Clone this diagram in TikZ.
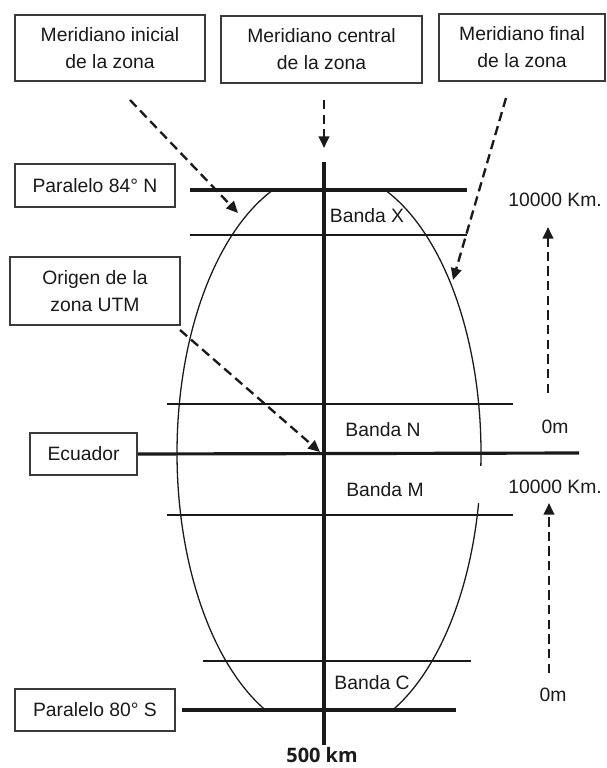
\documentclass[tikz,border=0pt]{standalone}
\usepackage{fontspec}
\setmainfont{Liberation Sans}
\newfontfamily\osans{Open Sans}
\usetikzlibrary{arrows.meta}
\definecolor{ink}{HTML}{1A1A1A}
\definecolor{boxline}{HTML}{3A3A3A}
\tikzset{
  lbl/.style={text=ink,font=\fontsize{16.5}{23}\selectfont,inner sep=0pt,align=center},
  tbox/.style={lbl,draw=boxline,line width=1.5pt,fill=white},
  thickln/.style={draw=ink,line width=2.7pt},
  thinln/.style={draw=ink,line width=1.2pt},
  arcln/.style={draw=ink,line width=1.1pt},
  dasharrow/.style={draw=ink,line width=2pt,dash pattern=on 8pt off 4.5pt,
    -{Triangle[length=10pt,width=9pt]}},
}
\begin{document}
\begin{tikzpicture}[x=0.03cm,y=-0.03cm]
\useasboundingbox (0,0) rectangle (606,768);
% top boxes
\node[tbox,minimum width=5.7cm,minimum height=1.98cm] (mi) at (110,48) {Meridiano inicial\\de la zona};
\node[tbox,minimum width=6.03cm,minimum height=2.0cm] (mc) at (321.5,49.5) {Meridiano central\\de la zona};
\node[tbox,minimum width=4.98cm,minimum height=2.0cm] (mf) at (522,47.5) {Meridiano final\\de la zona};
% left boxes
\node[tbox,minimum width=4.8cm,minimum height=1.29cm] (p84) at (95,185.5) {Paralelo 84° N};
\node[tbox,minimum width=5.1cm,minimum height=2.04cm] (og) at (95,291) {Origen de la\\zona UTM};
\node[tbox,minimum width=3.21cm,minimum height=1.26cm] (ec) at (83.5,454) {Ecuador};
\node[tbox,minimum width=4.8cm,minimum height=1.26cm] (p80) at (95,710) {Paralelo 80° S};
% ellipse arcs
\draw[arcln] plot[domain=111.7:245.2,samples=90] ({329+152*cos(\x)},{453-283*sin(\x)});
\draw[arcln] plot[domain=68.3:-2.6,samples=60] ({329+152*cos(\x)},{453-283*sin(\x)});
\draw[arcln] plot[domain=-10.2:-65.2,samples=60] ({329+152*cos(\x)},{453-283*sin(\x)});
% horizontal lines
\coordinate (t1) at (190,190); \coordinate (t2) at (467,190);
\coordinate (s1) at (190,235); \coordinate (s2) at (467,235);
\coordinate (n1) at (167,404); \coordinate (n2) at (513,404);
\coordinate (e2) at (579,453);
\coordinate (m1) at (167,515); \coordinate (m2) at (513,515);
\coordinate (c1) at (203,661); \coordinate (c2) at (471,661);
\coordinate (b1) at (182,710); \coordinate (b2) at (456,710);
\coordinate (v1) at (324,162); \coordinate (v2) at (324,745);
\draw[thickln] (t1) -- (t2);
\draw[thinln] (s1) -- (s2);
\draw[thinln] (n1) -- (n2);
\draw[thickln] (ec.east) -- (e2);
\draw[thinln] (m1) -- (m2);
\draw[thinln] (c1) -- (c2);
\draw[thickln] (b1) -- (b2);
\draw[thickln] (v1) -- (v2);
% band labels
\node[lbl] (bx) at (367,216) {Banda X};
\node[lbl] (bn) at (383,430) {Banda N};
\node[lbl] (bm) at (385,490) {Banda M};
\node[lbl] (bc) at (372,683) {Banda C};
% right scale
\node[lbl] (k1) at (555,200) {10000 Km.};
\node[lbl] (z1) at (555,427) {0m};
\node[lbl] (k2) at (555,487) {10000 Km.};
\node[lbl] (z2) at (553,695) {0m};
\node[text=ink,font=\osans\bfseries\fontsize{17}{20}\selectfont,inner sep=0pt,anchor=north] (km) at (322,747) {500 km};
% arrows
\coordinate (a1s) at (130,100); \coordinate (a1e) at (238,213);
\coordinate (a2s) at (324,100); \coordinate (a2e) at (324,148);
\coordinate (a3s) at (506,98);  \coordinate (a3e) at (453,280);
\coordinate (a4s) at (180,330); \coordinate (a4e) at (320,452);
\coordinate (u1s) at (548,393); \coordinate (u1e) at (548,227);
\coordinate (u2s) at (549,673); \coordinate (u2e) at (549,503);
\draw[dasharrow] (a1s) -- (a1e);
\draw[dasharrow] (a2s) -- (a2e);
\draw[dasharrow] (a3s) -- (a3e);
\draw[dasharrow] (a4s) -- (a4e);
\draw[dasharrow] (u1s) -- (u1e);
\draw[dasharrow] (u2s) -- (u2e);
\end{tikzpicture}
\end{document}
